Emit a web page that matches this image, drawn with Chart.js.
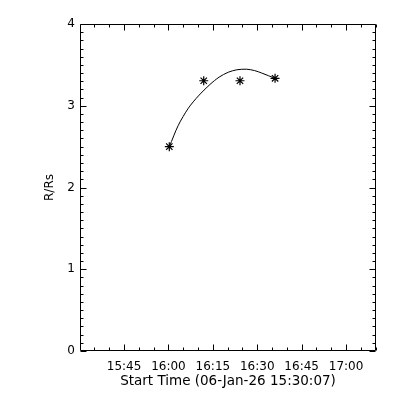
<!DOCTYPE html>
<html>
<head>
<meta charset="utf-8">
<script src="https://cdn.jsdelivr.net/npm/chart.js@4/dist/chart.umd.min.js"></script>
<style>
  body { margin: 0; background: #fff; }
  canvas { display: block; }
</style>
</head>
<body>
<canvas id="heightChart" width="400" height="400"></canvas>
<script>
// minutes after the start time 06-Jan-26 15:30:07
const startTime = '06-Jan-26 15:30:07';
const xTickValues = [14.883, 29.883, 44.883, 59.883, 74.883, 89.883];
const xTickLabels = ['15:45', '16:00', '16:15', '16:30', '16:45', '17:00'];
const xMinorStep = 5;
const yTickValues = [0, 1, 2, 3, 4];
const yMinorStep = 0.1;

// measured heights (asterisks)
const starTimes = [30.17, 41.8, 54.05, 65.9];
const starHeights = [2.50, 3.306, 3.306, 3.336];

// fitted curve
const fitTimes = [30.2, 33.2, 36.6, 40.0, 43.9, 47.0, 50.1, 53.0, 56.3, 59.0, 61.4, 65.9];
const fitHeights = [2.50, 2.76, 2.97, 3.12, 3.26, 3.35, 3.41, 3.44, 3.447, 3.43, 3.40, 3.335];

const FONT = { family: 'DejaVu Sans', size: 12 };
const TITLE_FONT = { family: 'DejaVu Sans', size: 13.5 };

// IDL style frame: box with inward ticks on all four sides
const idlFrame = {
    id: 'idlFrame',
    afterDraw(chart) {
        const { ctx, chartArea: a, scales: { x, y } } = chart;
        const L = a.left + 0.5, R = a.right - 0.5, T = a.top + 0.5, B = a.bottom - 0.5;
        ctx.save();
        ctx.strokeStyle = '#000';
        ctx.lineWidth = 1;
        ctx.beginPath();
        ctx.rect(L, T, R - L, B - T);

        for (let v = xTickValues[0] - 2 * xMinorStep; v <= x.max; v += xMinorStep) {
            if (v < x.min) continue;
            const major = xTickValues.some(t => Math.abs(t - v) < 1e-6);
            const len = major ? 6 : 3;
            const px = Math.round(x.getPixelForValue(v)) + 0.5;
            ctx.moveTo(px, B); ctx.lineTo(px, B - len);
            ctx.moveTo(px, T); ctx.lineTo(px, T + len);
        }

        for (let i = 0; i <= 40; i++) {
            const len = i % 10 === 0 ? 6 : 3;
            const py = Math.round(y.getPixelForValue(i * yMinorStep)) + 0.5;
            ctx.moveTo(L, py); ctx.lineTo(L + len, py);
            ctx.moveTo(R, py); ctx.lineTo(R - len, py);
        }
        ctx.stroke();
        ctx.restore();
    }
};

new Chart(document.getElementById('heightChart'), {
    type: 'scatter',
    data: {
        datasets: [{
            label: 'fit',
            data: fitTimes.map((t, i) => ({ x: t, y: fitHeights[i] })),
            showLine: true,
            borderColor: '#000',
            borderWidth: 1,
            pointRadius: 0,
            tension: 0.3
        }, {
            label: 'R/Rs',
            data: starTimes.map((t, i) => ({ x: t, y: starHeights[i] })),
            showLine: false,
            pointStyle: 'star',
            pointRadius: 4.5,
            borderColor: '#000',
            borderWidth: 1.2,
            backgroundColor: '#000'
        }]
    },
    options: {
        responsive: false,
        animation: false,
        layout: { padding: { left: 0, right: 24, top: 24, bottom: 0 } },
        plugins: { legend: { display: false }, tooltip: { enabled: false } },
        scales: {
            x: {
                type: 'linear',
                min: 0,
                max: 100,
                grid: { display: false, drawTicks: false },
                border: { display: false },
                afterBuildTicks: scale => { scale.ticks = xTickValues.map(v => ({ value: v })); },
                afterFit: scale => { scale.height = 49; },
                ticks: {
                    color: '#000',
                    font: FONT,
                    padding: 9,
                    maxRotation: 0,
                    autoSkip: false,
                    callback: (v, i) => xTickLabels[i]
                },
                title: {
                    display: true,
                    text: 'Start Time (' + startTime + ')',
                    color: '#000',
                    font: TITLE_FONT,
                    padding: { top: 0, bottom: 10 }
                }
            },
            y: {
                min: 0,
                max: 4,
                grid: { display: false, drawTicks: false },
                border: { display: false },
                afterBuildTicks: scale => { scale.ticks = yTickValues.map(v => ({ value: v })); },
                afterFit: scale => { scale.width = 80; },
                ticks: {
                    color: '#000',
                    font: FONT,
                    padding: 5,
                    callback: v => String(v)
                },
                title: {
                    display: true,
                    text: 'R/Rs',
                    color: '#000',
                    font: FONT,
                    padding: { top: 43, bottom: 0 }
                }
            }
        }
    },
    plugins: [idlFrame]
});
</script>
</body>
</html>
